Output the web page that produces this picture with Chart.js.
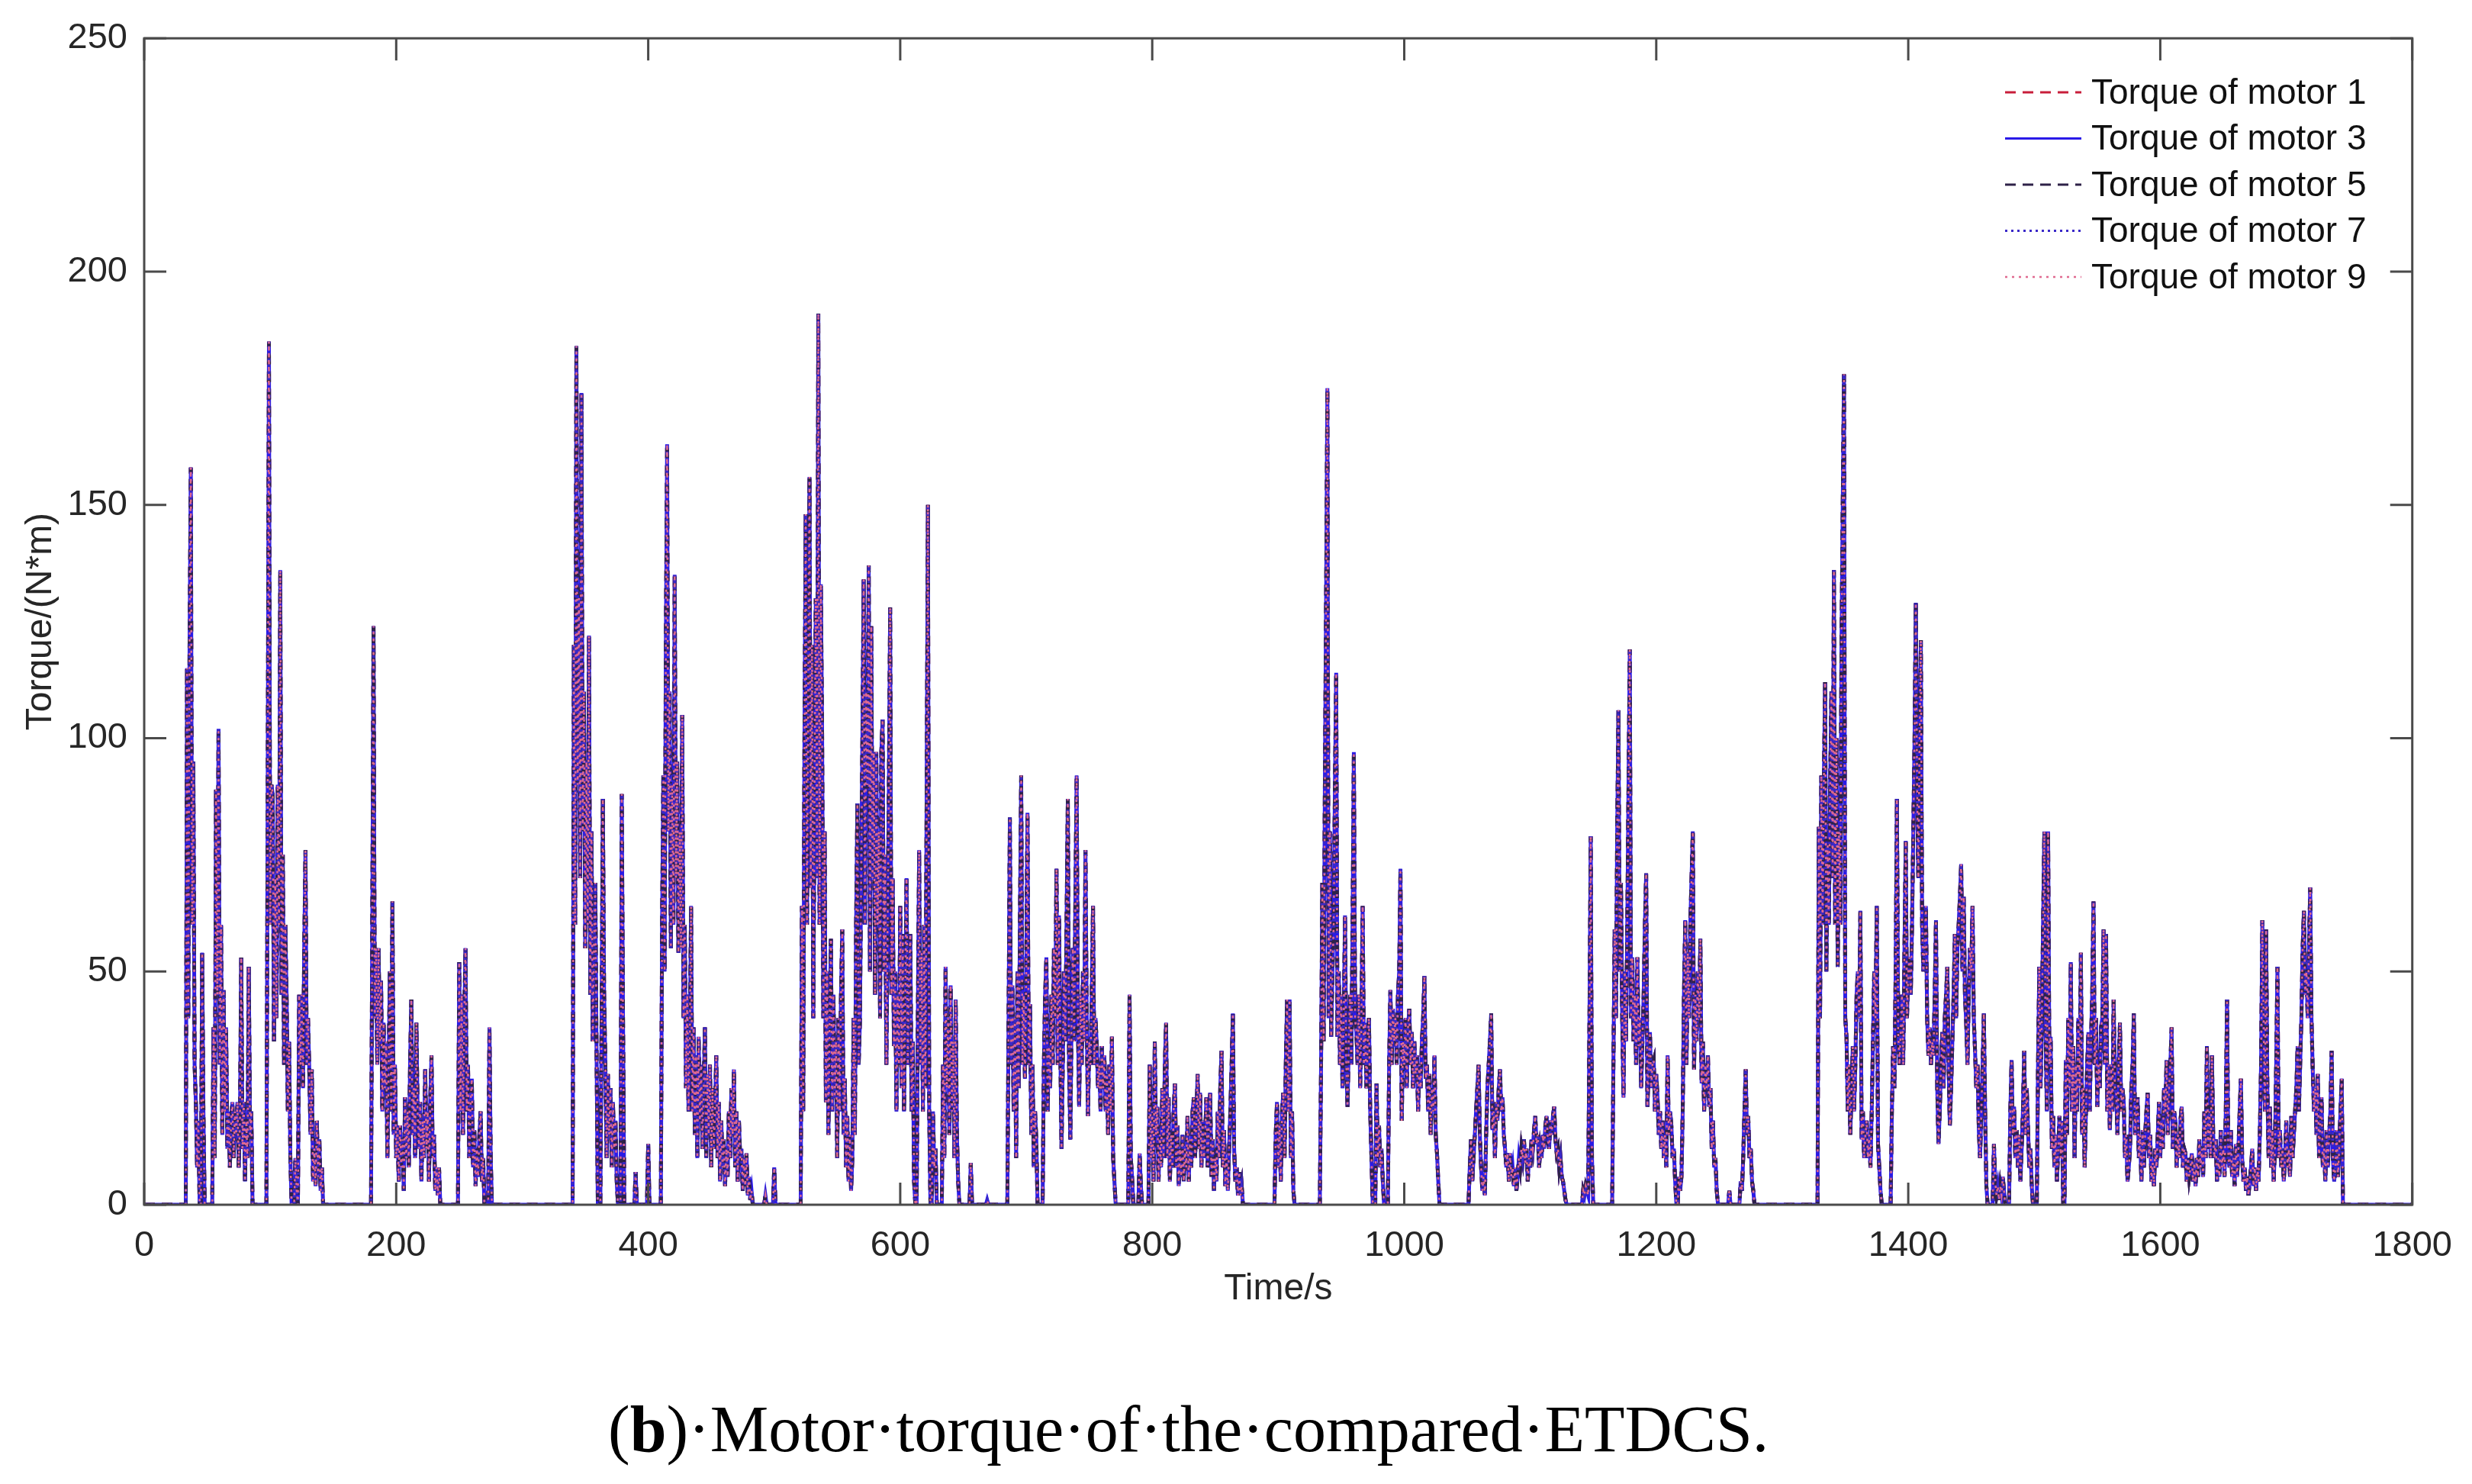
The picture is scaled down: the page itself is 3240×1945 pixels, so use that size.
<!DOCTYPE html>
<html>
<head>
<meta charset="utf-8">
<title>Motor torque of the compared ETDCS</title>
<script src="https://cdn.jsdelivr.net/npm/chart.js@4.4.1/dist/chart.umd.min.js"></script>
<style>
  html, body { margin: 0; padding: 0; background: #fff; }
  #wrap { width: 3240px; height: 1945px; }
</style>
</head>
<body>
<div id="wrap"><canvas id="torque-chart" width="3240" height="1945"></canvas></div>
<script>
// ---------- Data ----------
const xTickValues = [0, 200, 400, 600, 800, 1000, 1200, 1400, 1600, 1800];
const yTickValues = [0, 50, 100, 150, 200, 250];
const motorNames = ["Torque of motor 1", "Torque of motor 3", "Torque of motor 5", "Torque of motor 7", "Torque of motor 9"];

// [time s, torque N*m] -- the five motor traces lie on top of each other
const torque0to300 = [
  [0,0],[33,0],[34,115],[35,40],[36,120],[37,158],[38,60],[39,95],[40,30],[41,22],[42,8],[43,18],[44,0],
  [45,0],[46,54],[47,20],[48,0],
  [54,0],[55,38],[56,10],[57,89],[58,45],[59,102],[60,30],[61,60],[62,15],[63,46],[64,20],[65,38],[66,12],[67,20],[68,8],[69,18],[70,22],[71,10],[72,20],[73,15],[74,22],[75,8],[76,18],[77,53],[78,12],[79,22],[80,5],[81,18],[82,10],[83,51],[84,15],[85,20],[86,0],
  [97,0],[98,88],[99,185],[100,60],[101,90],[102,88],[103,35],[104,70],[105,40],[106,90],[107,60],[108,136],[109,45],[110,75],[111,30],[112,60],[113,45],[114,20],[115,35],[116,10],[117,0],
  [119,0],[120,10],[121,3],[122,0],[123,45],[124,30],[125,45],[126,25],[127,55],[128,76],[129,30],[130,40],[131,29],[132,15],[133,29],[134,5],[135,12],[136,4],[137,18],[138,6],[139,14],[140,3],[141,8],[142,0],
  [180,0],[181,60],[182,124],[183,40],[184,55],[185,30],[186,55],[187,35],[188,48],[189,20],[190,39],[191,25],[192,35],[193,10],[194,30],[195,50],[196,20],[197,65],[198,15],[199,30],[200,10],[201,17],[202,5],[203,17],[204,8],[205,14],[206,3],[207,23],[208,10],[209,20],[210,8],[211,30],[212,44],[213,15],[214,25],[215,10],[216,39],[217,20],[218,12],[219,22],[220,5],[221,18],[222,10],[223,29],[224,12],[225,20],[226,5],[227,22],[228,32],[229,10],[230,15],[231,3],[232,8],[233,2],[234,8],[235,0],
  [249,0],[250,52],[251,20],[252,45],[253,15],[254,40],[255,55],[256,20],[257,30],[258,10],[259,22],[260,27],[261,8],[262,16],[263,4],[264,12],[265,6],[266,15],[267,20],[268,5],[269,10],[270,0],
  [273,0],[274,38],[275,10],[276,0]
];

const torque300to600 = [
  [340,0],[341,120],[342,60],[343,184],[344,90],[345,130],[346,70],[347,174],[348,80],[349,110],[350,55],[351,95],[352,60],[353,122],[354,45],[355,80],[356,35],[357,55],[358,69],[359,33],[360,0],
  [362,0],[363,40],[364,87],[365,45],[366,30],[367,10],[368,28],[369,15],[370,25],[371,8],[372,22],[373,12],[374,18],[375,5],[376,0],
  [378,0],[379,88],[380,40],[381,0],[389,0],[390,7],[391,0],[399,0],[400,13],[401,0],
  [410,0],[411,60],[412,92],[413,50],[414,120],[415,163],[416,80],[417,110],[418,55],[419,90],[420,60],[421,135],[422,70],[423,95],[424,54],[425,80],[426,55],[427,105],[428,40],[429,60],[430,25],[431,45],[432,20],[433,35],[434,64],[435,20],
  [436,38],[437,15],[438,32],[439,10],[440,36],[441,18],[442,30],[443,12],[444,25],[445,38],[446,10],[447,28],[448,15],[449,30],[450,8],[451,25],[452,12],[453,20],[454,32],[455,10],[456,22],[457,5],[458,18],[459,8],[460,14],[461,4],[462,12],[463,6],[464,20],[465,10],[466,25],[467,15],[468,29],[469,8],[470,20],[471,5],[472,18],[473,10],[474,12],[475,3],[476,10],[477,4],[478,11],[479,2],[480,6],[481,1],[482,3],[483,0],
  [492,0],[493,2],[494,0],[499,0],[500,8],[501,0],
  [521,0],[522,64],[523,20],[524,100],[525,148],[526,60],[527,110],[528,156],[529,68],[530,120],[531,40],[532,90],[533,130],[534,70],[535,191],[536,60],[537,133],[538,102],[539,40],[540,80],[541,22],[542,50],[543,15],[544,40],[545,57],[546,20],[547,45],[548,23],[549,35],[550,10],[551,40],[552,20],[553,45],[554,59],[555,15],[556,27],[557,8],[558,19],[559,5],[560,15],[561,3],[562,10],[563,40],[564,15],[565,60],[566,86],[567,30],[568,39],[569,70],[570,100],[571,134],[572,60],[573,110],[574,90],[575,137],[576,50],[577,124],[578,70],[579,97],[580,45],[581,97],[582,60],[583,80],[584,40],[585,97],[586,104],[587,50],[588,75],[589,30],[590,60],[591,90],[592,128],[593,45],[594,70],[595,34],[596,50],[597,20],[598,45],[599,30],[600,64],[601,25],[602,58],[603,20],[604,45]
];

const torque600to900 = [
  [605,70],[606,30],[607,50],[608,58],[609,20],[610,35],[611,5],[612,0],
  [613,0],[614,40],[615,76],[616,30],[617,54],[618,20],[619,60],[620,25],[621,90],[622,150],[623,20],[624,0],
  [625,0],[626,20],[627,8],[628,12],[629,0],
  [633,0],[634,30],[635,10],[636,51],[637,25],[638,40],[639,15],[640,47],[641,20],[642,35],[643,10],[644,44],[645,15],[646,5],[647,0],
  [655,0],[656,9],[657,0],[668,0],[669,1],[670,0],
  [685,0],[686,40],[687,83],[688,30],[689,47],[690,20],[691,40],[692,10],[693,50],[694,25],[695,60],[696,92],[697,30],[698,45],[699,27],[700,50],[701,84],[702,30],[703,43],[704,15],[705,30],[706,8],[707,20],[708,14],[709,0],
  [713,0],[714,30],[715,45],[716,53],[717,20],[718,34],[719,25],[720,45],[721,30],[722,55],[723,40],[724,72],[725,30],[726,62],[727,35],[728,12],[729,30],[730,50],[731,35],[732,60],[733,87],[734,30],[735,14],[736,40],[737,55],[738,35],[739,65],[740,92],[741,40],[742,21],[743,45],[744,30],[745,50],[746,35],[747,76],[748,40],[749,19],[750,35],[751,30],[752,45],[753,64],[754,30],[755,40],[756,34],[757,25],[758,30],[759,20],[760,34],[761,25],[762,32],[763,20],[764,28],[765,15],[766,30],[767,20],[768,36],[769,10],[770,5],[771,0],
  [781,0],[782,45],[783,10],[784,6],[785,0],[789,0],[790,11],[791,4],[792,0],
  [797,0],[798,30],[799,10],[800,20],[801,5],[802,35],[803,15],[804,21],[805,5],[806,15],[807,8],[808,25],[809,10],[810,30],[811,39],[812,10],[813,23],[814,5],[815,15],[816,8],[817,20],[818,26],[819,8],[820,17],[821,4],[822,12],[823,6],[824,15],[825,5],[826,12],[827,8],[828,19],[829,5],[830,14],[831,8],[832,20],[833,23],[834,10],[835,18],[836,28],[837,12],[838,24],[839,8],[840,18],[841,10],[842,15],[843,23],[844,8],[845,18],[846,24],[847,6],[848,14],[849,3],[850,10],[851,5],[852,20],[853,10],[854,25],[855,33],[856,8],[857,16],[858,4],[859,10],[860,3],[861,12],[862,20],[863,30],[864,41],[865,12],[866,5],[867,8],[868,2],[869,7],[870,2],[871,4],[872,0],
  [897,0],[898,15],[899,22],[900,8],[901,17],[902,5],[903,20],[904,24],[905,10],[906,30]
];

const torque900to1200 = [
  [907,44],[908,20],[909,44],[910,10],[911,20],[912,3],[913,0],
  [933,0],[934,30],[935,69],[936,35],[937,90],[938,130],[939,175],[940,40],[941,80],[942,36],[943,50],[944,60],[945,90],[946,114],[947,36],[948,50],[949,30],[950,45],[951,25],[952,40],[953,62],[954,30],[955,21],[956,35],[957,45],[958,30],[959,60],[960,97],[961,40],[962,37],[963,30],[964,45],[965,25],[966,40],[967,64],[968,30],[969,39],[970,25],[971,35],[972,40],[973,20],[974,10],[975,0],
  [977,0],[978,26],[979,10],[980,17],[981,8],[982,12],[983,5],[984,0],
  [987,0],[988,30],[989,46],[990,30],[991,42],[992,35],[993,40],[994,30],[995,45],[996,50],[997,72],[998,18],[999,35],[1000,30],[1001,40],[1002,25],[1003,38],[1004,42],[1005,30],[1006,37],[1007,25],[1008,35],[1009,28],[1010,32],[1011,20],[1012,30],[1013,25],[1014,35],[1015,40],[1016,49],[1017,27],[1018,30],[1019,20],[1020,28],[1021,15],[1022,25],[1023,20],[1024,32],[1025,15],[1026,11],[1027,5],[1028,0],
  [1051,0],[1052,8],[1053,14],[1054,5],[1055,10],[1056,15],[1057,20],[1058,25],[1059,30],[1060,15],[1061,8],[1062,3],[1063,6],[1064,2],[1065,15],[1066,25],[1067,30],[1068,35],[1069,41],[1070,16],[1071,20],[1072,10],[1073,22],[1074,18],[1075,25],[1076,29],[1077,20],[1078,23],[1079,15],[1080,12],[1081,8],[1082,11],[1083,5],[1084,11],[1085,6],[1086,8],[1087,4],[1088,8],[1089,3],[1090,6],[1091,10],[1092,8],[1093,12],[1094,10],[1095,14],[1096,9],[1097,12],[1098,5],[1099,10],[1100,8],[1101,14],[1102,12],[1103,16],[1104,19],[1105,13],[1106,15],[1107,8],[1108,12],[1109,10],[1110,15],[1111,12],[1112,17],[1113,19],[1114,14],[1115,12],[1116,18],[1117,15],[1118,19],[1119,21],[1120,14],[1121,11],[1122,12],[1123,8],[1124,10],[1125,6],[1126,5],[1127,3],[1128,1],[1129,0],
  [1141,0],[1142,3],[1143,2],[1144,4],[1145,3],[1146,2],[1147,40],[1148,79],[1149,10],[1150,0],
  [1165,0],[1166,30],[1167,59],[1168,40],[1169,80],[1170,106],[1171,50],[1172,69],[1173,40],[1174,23],[1175,50],[1176,35],[1177,60],[1178,90],[1179,119],[1180,40],[1181,53],[1182,35],[1183,45],[1184,30],[1185,53],[1186,34],[1187,40],[1188,25],[1189,35],[1190,45],[1191,60],[1192,71],[1193,21],[1194,30],[1195,37],[1196,25],[1197,30],[1198,31],[1199,20],[1200,28],[1201,23],[1202,15],[1203,20],[1204,12],[1205,18],[1206,10],[1207,15],[1208,8]
];

const torque1200to1500 = [
  [1209,32],[1210,15],[1211,20],[1212,17],[1213,10],[1214,12],[1215,5],[1216,0],
  [1217,0],[1218,6],[1219,3],[1220,6],[1221,20],[1222,45],[1223,61],[1224,30],[1225,54],[1226,40],[1227,60],[1228,70],[1229,80],[1230,29],[1231,45],[1232,35],[1233,50],[1234,40],[1235,57],[1236,26],[1237,35],[1238,20],[1239,30],[1240,25],[1241,32],[1242,21],[1243,25],[1244,12],[1245,18],[1246,8],[1247,10],[1248,3],[1249,0],
  [1257,0],[1258,3],[1259,0],[1266,0],[1267,5],[1268,3],[1269,10],[1270,20],[1271,29],[1272,15],[1273,19],[1274,10],[1275,12],[1276,5],[1277,3],[1278,0],
  [1328,0],[1329,81],[1330,40],[1331,92],[1332,60],[1333,90],[1334,112],[1335,50],[1336,77],[1337,60],[1338,90],[1339,110],[1340,70],[1341,136],[1342,60],[1343,100],[1344,51],[1345,80],[1346,60],[1347,120],[1348,150],[1349,178],[1350,40],[1351,36],[1352,20],[1353,30],[1354,15],[1355,25],[1356,34],[1357,20],[1358,30],[1359,45],[1360,50],[1361,40],[1362,63],[1363,14],[1364,20],[1365,10],[1366,15],[1367,18],[1368,10],[1369,15],[1370,8],[1371,20],[1372,35],[1373,50],[1374,40],[1375,64],[1376,13],[1377,8],[1378,3],[1379,0],
  [1386,0],[1387,20],[1388,34],[1389,25],[1390,50],[1391,87],[1392,37],[1393,30],[1394,37],[1395,45],[1396,30],[1397,55],[1398,78],[1399,40],[1400,50],[1401,53],[1402,45],[1403,60],[1404,80],[1405,100],[1406,129],[1407,90],[1408,70],[1409,100],[1410,121],[1411,60],[1412,50],[1413,55],[1414,64],[1415,40],[1416,32],[1417,38],[1418,30],[1419,35],[1420,32],[1421,45],[1422,61],[1423,25],[1424,13],[1425,20],[1426,30],[1427,37],[1428,25],[1429,40],[1430,45],[1431,51],[1432,30],[1433,17],[1434,25],[1435,35],[1436,45],[1437,58],[1438,40],[1439,55],[1440,60],[1441,66],[1442,73],[1443,50],[1444,66],[1445,45],[1446,39],[1447,30],[1448,45],[1449,55],[1450,50],[1451,64],[1452,40],[1453,33],[1454,25],[1455,30],[1456,16],[1457,10],[1458,20],[1459,30],[1460,41],[1461,20],[1462,4],[1463,0],
  [1467,0],[1468,13],[1469,5],[1470,2],[1471,4],[1472,1],[1473,4],[1474,2],[1475,6],[1476,3],[1477,0],
  [1480,0],[1481,20],[1482,31],[1483,15],[1484,21],[1485,10],[1486,16],[1487,8],[1488,15],[1489,5],[1490,12],[1491,20],[1492,33],[1493,15],[1494,25],[1495,17],[1496,8],[1497,12],[1498,4],[1499,0],
  [1502,0],[1503,30],[1504,51],[1505,25],[1506,40],[1507,60],[1508,80],[1509,36],[1510,20]
];

const torque1500to1800 = [
  [1511,80],[1512,30],[1513,36],[1514,12],[1515,19],[1516,8],[1517,15],[1518,5],[1519,12],[1520,19],[1521,10],[1522,18],[1523,0],
  [1524,0],[1525,31],[1526,15],[1527,40],[1528,25],[1529,52],[1530,20],[1531,34],[1532,10],[1533,30],[1534,20],[1535,40],[1536,25],[1537,54],[1538,15],[1539,25],[1540,8],[1541,20],[1542,30],[1543,37],[1544,20],[1545,35],[1546,45],[1547,65],[1548,30],[1549,40],[1550,21],[1551,30],[1552,25],[1553,38],[1554,40],[1555,59],[1556,30],[1557,58],[1558,20],[1559,30],[1560,16],[1561,30],[1562,20],[1563,44],[1564,25],[1565,24],[1566,15],[1567,30],[1568,39],[1569,20],[1570,25],[1571,22],[1572,10],[1573,15],[1574,5],[1575,8],[1576,12],[1577,25],[1578,30],[1579,41],[1580,15],[1581,20],[1582,23],[1583,10],[1584,15],[1585,5],[1586,16],[1587,8],[1588,15],[1589,20],[1590,24],[1591,10],[1592,15],[1593,5],[1594,9],[1595,4],[1596,12],[1597,8],[1598,15],[1599,22],[1600,10],[1601,18],[1602,12],[1603,25],[1604,20],[1605,31],[1606,15],[1607,25],[1608,30],[1609,38],[1610,12],[1611,20],[1612,18],[1613,8],[1614,15],[1615,10],[1616,18],[1617,21],[1618,8],[1619,12],[1620,11],[1621,5],[1622,10],[1623,6],[1624,8],[1625,11],[1626,5],[1627,9],[1628,4],[1629,10],[1630,6],[1631,14],[1632,8],[1633,12],[1634,6],[1635,20],[1636,10],[1637,34],[1638,12],[1639,20],[1640,10],[1641,32],[1642,15],[1643,10],[1644,14],[1645,5],[1646,10],[1647,6],[1648,16],[1649,8],[1650,12],[1651,6],[1652,20],[1653,44],[1654,10],[1655,8],[1656,16],[1657,6],[1658,10],[1659,4],[1660,13],[1661,6],[1662,12],[1663,20],[1664,27],[1665,10],[1666,5],[1667,8],[1668,3],[1669,6],[1670,2],[1671,5],[1672,8],[1673,12],[1674,4],[1675,8],[1676,3],[1677,8],[1678,5],[1679,15],[1680,30],[1681,61],[1682,40],[1683,20],[1684,59],[1685,25],[1686,10],[1687,21],[1688,8],[1689,16],[1690,5],[1691,12],[1692,30],[1693,51],[1694,10],[1695,16],[1696,8],[1697,12],[1698,5],[1699,10],[1700,18],[1701,8],[1702,12],[1703,6],[1704,19],[1705,10],[1706,15],[1707,20],[1708,25],[1709,34],[1710,20],[1711,30],[1712,40],[1713,55],[1714,63],[1715,45],[1716,50],[1717,40],[1718,55],[1719,68],[1720,40],[1721,29],[1722,20],[1723,25],[1724,15],[1725,28],[1726,10],[1727,18],[1728,23],[1729,8],[1730,12],[1731,5],[1732,16],[1733,8],[1734,15],[1735,20],[1736,33],[1737,10],[1738,5],[1739,8],[1740,16],[1741,6],[1742,12],[1743,20],[1744,27],[1745,0],
  [1800,0]
];

(function () {
  const color = {
    axis: "#4a4a4a",
    text: "#262626",
    red: "#c81e3a",
    blue: "#2a1ae8",
    gray: "#2e2248",
    navy: "#3a28c8",
    pink: "#e06a90",
  };
  const sans = "'Liberation Sans', Arial, Helvetica, sans-serif";
  const serif = "'Liberation Serif', 'Times New Roman', serif";

  const torque = [].concat(torque0to300, torque300to600, torque600to900,
    torque900to1200, torque1200to1500, torque1500to1800);

  // line style per motor, in legend order (1, 3, 5, 7, 9)
  const styles = [
    { color: color.red, dash: [14, 9], width: 5 },
    { color: color.blue, dash: [], width: 5 },
    { color: color.gray, dash: [14, 9], width: 5 },
    { color: color.navy, dash: [3, 5], width: 4 },
    { color: color.pink, dash: [3, 6], width: 2.5 },
  ];

  const datasets = motorNames.map((name, i) => ({
    label: name,
    data: torque.map((p) => ({ x: p[0], y: p[1] })),
    borderColor: styles[i].color,
    borderDash: styles[i].dash,
    borderWidth: styles[i].width,
    pointRadius: 0,
    tension: 0,
    fill: false,
    order: motorNames.length - i, // later motors drawn on top, like the original plot
  }));

  // ---------- Frame, inward ticks, titles, legend, caption ----------
  const decor = {
    id: "decor",
    beforeDraw(chart) {
      const ctx = chart.ctx;
      ctx.save();
      ctx.fillStyle = "#ffffff";
      ctx.fillRect(0, 0, chart.width, chart.height);
      ctx.restore();
    },
    afterDraw(chart) {
      const ctx = chart.ctx;
      const a = chart.chartArea;
      const xs = chart.scales.x;
      const ys = chart.scales.y;
      const tick = 29;

      ctx.save();
      ctx.strokeStyle = color.axis;
      ctx.lineWidth = 3;
      ctx.setLineDash([]);
      ctx.strokeRect(a.left, a.top, a.right - a.left, a.bottom - a.top);

      ctx.beginPath();
      xTickValues.forEach((v) => {
        const px = xs.getPixelForValue(v);
        ctx.moveTo(px, a.bottom); ctx.lineTo(px, a.bottom - tick);
        ctx.moveTo(px, a.top); ctx.lineTo(px, a.top + tick);
      });
      yTickValues.forEach((v) => {
        const py = ys.getPixelForValue(v);
        ctx.moveTo(a.left, py); ctx.lineTo(a.left + tick, py);
        ctx.moveTo(a.right, py); ctx.lineTo(a.right - tick, py);
      });
      ctx.stroke();

      // axis titles
      ctx.fillStyle = color.text;
      ctx.font = "48px " + sans;
      ctx.textAlign = "center";
      ctx.textBaseline = "middle";
      ctx.fillText("Time/s", (a.left + a.right) / 2, 1690);
      ctx.save();
      ctx.translate(54, (a.top + a.bottom) / 2);
      ctx.rotate(-Math.PI / 2);
      ctx.fillText("Torque/(N*m)", 0, 0);
      ctx.restore();

      // legend
      const lx0 = 2628, lx1 = 2728, tx = 2741, ly0 = 121, step = 60.5;
      ctx.font = "46px " + sans;
      ctx.textAlign = "left";
      motorNames.forEach((name, i) => {
        const y = ly0 + i * step;
        ctx.beginPath();
        ctx.strokeStyle = styles[i].color;
        ctx.lineWidth = Math.min(styles[i].width, 3);
        ctx.setLineDash(styles[i].dash);
        ctx.moveTo(lx0, y);
        ctx.lineTo(lx1, y);
        ctx.stroke();
        ctx.setLineDash([]);
        ctx.fillStyle = "#111111";
        ctx.fillText(name, tx, y + 2);
      });

      // caption
      const parts = [
        { t: "(", bold: false },
        { t: "b", bold: true },
        { t: ")·Motor·torque·of·the·compared·ETDCS.", bold: false },
      ];
      let cx = 797;
      ctx.fillStyle = "#000000";
      ctx.textBaseline = "alphabetic";
      parts.forEach((p) => {
        ctx.font = (p.bold ? "bold " : "") + "86px " + serif;
        ctx.fillText(p.t, cx, 1902);
        cx += ctx.measureText(p.t).width;
      });
      ctx.restore();
    },
  };

  new Chart(document.getElementById("torque-chart"), {
    type: "line",
    data: { datasets },
    options: {
      responsive: false,
      animation: false,
      devicePixelRatio: 1,
      parsing: false,
      layout: { padding: { top: 49, right: 72, left: 0, bottom: 0 } },
      plugins: { legend: { display: false }, tooltip: { enabled: false } },
      scales: {
        x: {
          type: "linear",
          min: 0,
          max: 1800,
          afterBuildTicks: (axis) => { axis.ticks = xTickValues.map((v) => ({ value: v })); },
          afterFit: (axis) => { axis.height = 1945 - 1579; },
          grid: { display: false, drawTicks: false },
          border: { display: false },
          ticks: {
            color: color.text,
            font: { size: 47, family: sans },
            padding: 26,
            maxRotation: 0,
            callback: (v) => String(v),
          },
        },
        y: {
          type: "linear",
          min: 0,
          max: 250,
          afterBuildTicks: (axis) => { axis.ticks = yTickValues.map((v) => ({ value: v })); },
          afterFit: (axis) => { axis.width = 189; },
          grid: { display: false, drawTicks: false },
          border: { display: false },
          ticks: { color: color.text, font: { size: 47, family: sans }, padding: 22, callback: (v) => String(v) },
        },
      },
    },
    plugins: [decor],
  });
})();
</script>
</body>
</html>
